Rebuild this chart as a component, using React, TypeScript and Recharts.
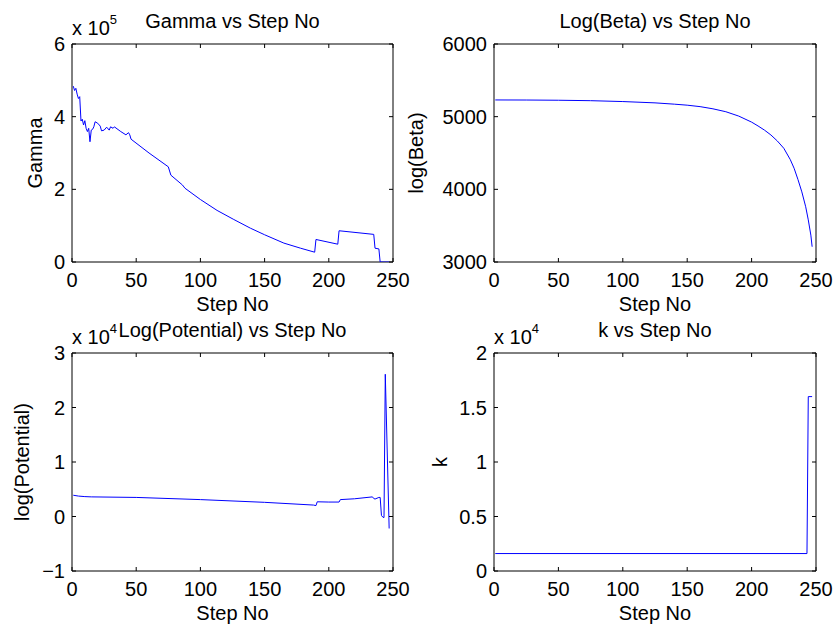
import React from "react";
import { LineChart, Line, XAxis, YAxis, ReferenceArea } from "recharts";

const FONT = '"Liberation Sans", Arial, Helvetica, sans-serif';
const BLUE = "#0000ff";

// shared x axis
const stepTicks = [0, 50, 100, 150, 200, 250];

// Gamma
const gammaSteps = [
  1, 2, 3, 4, 5, 6, 7, 8, 9, 10, 11, 12, 13, 14, 15, 16, 17, 18, 20, 22, 23, 25,
  27, 29, 30, 32, 33, 38, 42, 44, 45, 46, 60, 75, 77, 86, 88, 100, 113, 126, 139,
  150, 165, 178, 189, 190, 207, 208, 235, 236, 239, 240, 247,
];
const gammaValues = [
  4.84e5, 4.72e5, 4.78e5, 4.62e5, 4.5e5, 4.55e5, 3.88e5, 3.93e5, 3.77e5, 3.89e5,
  3.68e5, 3.59e5, 3.68e5, 3.31e5, 3.63e5, 3.65e5, 3.72e5, 3.86e5, 3.82e5, 3.74e5,
  3.61e5, 3.63e5, 3.71e5, 3.63e5, 3.72e5, 3.68e5, 3.72e5, 3.59e5, 3.5e5, 3.56e5,
  3.5e5, 3.38e5, 3.0e5, 2.62e5, 2.39e5, 2.12e5, 2.03e5, 1.72e5, 1.42e5, 1.17e5,
  0.93e5, 0.75e5, 0.52e5, 0.38e5, 0.27e5, 0.62e5, 0.49e5, 0.86e5, 0.76e5, 0.38e5,
  0.36e5, 0, 0,
];
const gammaTicks = [0, 2e5, 4e5, 6e5];

// log(Beta)
const betaSteps = [
  1, 25, 50, 75, 100, 125, 140, 150, 160, 170, 180, 190, 200, 205, 210, 215, 220,
  225, 230, 233, 236, 239, 242, 244, 246, 247,
];
const betaValues = [
  5230, 5229, 5226, 5220, 5208, 5190, 5172, 5158, 5138, 5108, 5068, 5008, 4925,
  4872, 4815, 4748, 4665, 4565, 4410, 4290, 4135, 3965, 3760, 3580, 3370, 3210,
];
const betaTicks = [3000, 4000, 5000, 6000];

// log(Potential)
const potentialSteps = [
  1, 5, 10, 15, 50, 100, 150, 188, 190, 191, 200, 208, 209, 220, 234, 235, 236,
  239, 240, 241, 242, 243, 244, 247,
];
const potentialValues = [
  3900, 3750, 3650, 3600, 3500, 3100, 2600, 2100, 2000, 2700, 2650, 2650, 3100,
  3250, 3600, 3300, 3200, 3500, 3500, 200, -100, -200, 26100, -2200,
];
const potentialTicks = [-1e4, 0, 1e4, 2e4, 3e4];

// k
const kSteps = [1, 243, 244, 247];
const kValues = [1600, 1600, 16000, 16000];
const kTicks = [0, 5000, 10000, 15000, 20000];

const PAD_L = 72;
const PAD_T = 44;
const PAD_R = 24;
const PAD_B = 60;

type PanelProps = {
  plotX: number;
  plotY: number;
  plotW: number;
  plotH: number;
  title: string;
  yLabel: string;
  yLabelGap: number;
  exponent?: number;
  steps: number[];
  values: number[];
  yTicks: number[];
};

function fmt(v: number) {
  return String(Number(v.toFixed(4))).replace("-", "\u2212");
}

function Panel(props: PanelProps) {
  const { plotX, plotY, plotW, plotH, title, yLabel, yLabelGap, exponent, steps, values, yTicks } = props;
  const data = steps.map((s, i) => ({ step: s, value: values[i] }));
  const div = exponent ? Math.pow(10, exponent) : 1;
  const yMin = yTicks[0];
  const yMax = yTicks[yTicks.length - 1];
  const width = PAD_L + plotW + PAD_R;
  const height = PAD_T + plotH + PAD_B;
  const bottom = PAD_T + plotH;
  const right = PAD_L + plotW;

  // MATLAB-style ticks: pointing inward, mirrored on the opposite side of the box
  const xTick = (p: any) => (
    <g>
      <line x1={p.x} y1={bottom} x2={p.x} y2={bottom - 4} stroke="#000" />
      <line x1={p.x} y1={PAD_T} x2={p.x} y2={PAD_T + 4} stroke="#000" />
      <text x={p.x} y={bottom + 25} textAnchor="middle" fontSize={20} fill="#000" fontFamily={FONT}>
        {fmt(p.payload.value)}
      </text>
    </g>
  );

  const yTick = (p: any) => (
    <g>
      <line x1={PAD_L} y1={p.y} x2={PAD_L + 4} y2={p.y} stroke="#000" />
      <line x1={right - 4} y1={p.y} x2={right} y2={p.y} stroke="#000" />
      <text x={PAD_L - 7} y={p.y + 7} textAnchor="end" fontSize={20} fill="#000" fontFamily={FONT}>
        {fmt(p.payload.value / div)}
      </text>
    </g>
  );

  return (
    <div style={{ position: "absolute", left: plotX - PAD_L, top: plotY - PAD_T, width, height }}>
      <LineChart
        width={width}
        height={height}
        data={data}
        margin={{ top: PAD_T, right: PAD_R, left: 0, bottom: 0 }}
        style={{ overflow: "visible" }}
      >
        <XAxis
          dataKey="step"
          type="number"
          domain={[0, 250]}
          ticks={stepTicks}
          interval={0}
          height={PAD_B}
          axisLine={false}
          tickLine={false}
          tick={xTick}
          allowDataOverflow
        />
        <YAxis
          type="number"
          domain={[yMin, yMax]}
          ticks={yTicks}
          interval={0}
          width={PAD_L}
          axisLine={false}
          tickLine={false}
          tick={yTick}
          allowDataOverflow
        />
        <ReferenceArea x1={0} x2={250} y1={yMin} y2={yMax} fill="none" stroke="#000" strokeWidth={1} />
        <Line
          type="linear"
          dataKey="value"
          stroke={BLUE}
          strokeWidth={1}
          dot={false}
          activeDot={false}
          isAnimationActive={false}
        />
      </LineChart>
      <svg
        width={width}
        height={height}
        style={{ position: "absolute", left: 0, top: 0, overflow: "visible", pointerEvents: "none" }}
        fontFamily={FONT}
        fill="#000"
      >
        <text x={PAD_L + plotW / 2} y={PAD_T - 16} textAnchor="middle" fontSize={20}>
          {title}
        </text>
        {exponent ? (
          <text x={PAD_L} y={PAD_T - 9} fontSize={20}>
            x 10
            <tspan dy={-11} fontSize={13}>
              {exponent}
            </tspan>
          </text>
        ) : null}
        <text x={PAD_L + plotW / 2} y={bottom + 49} textAnchor="middle" fontSize={20}>
          Step No
        </text>
        <text
          transform={`translate(${PAD_L - yLabelGap}, ${PAD_T + plotH / 2}) rotate(-90)`}
          textAnchor="middle"
          fontSize={20}
        >
          {yLabel}
        </text>
      </svg>
    </div>
  );
}

export default function App() {
  return (
    <div style={{ position: "absolute", left: 0, top: 0, width: 836, height: 627, background: "#fff" }}>
      <Panel
        plotX={72}
        plotY={44}
        plotW={321}
        plotH={218}
        title="Gamma vs Step No"
        yLabel="Gamma"
        yLabelGap={30}
        exponent={5}
        steps={gammaSteps}
        values={gammaValues}
        yTicks={gammaTicks}
      />
      <Panel
        plotX={494}
        plotY={44}
        plotW={322}
        plotH={218}
        title="Log(Beta) vs Step No"
        yLabel="log(Beta)"
        yLabelGap={71}
        steps={betaSteps}
        values={betaValues}
        yTicks={betaTicks}
      />
      <Panel
        plotX={72}
        plotY={353}
        plotW={321}
        plotH={218}
        title="Log(Potential) vs Step No"
        yLabel="log(Potential)"
        yLabelGap={43}
        exponent={4}
        steps={potentialSteps}
        values={potentialValues}
        yTicks={potentialTicks}
      />
      <Panel
        plotX={494}
        plotY={353}
        plotW={322}
        plotH={218}
        title="k vs Step No"
        yLabel="k"
        yLabelGap={47}
        exponent={4}
        steps={kSteps}
        values={kValues}
        yTicks={kTicks}
      />
    </div>
  );
}
